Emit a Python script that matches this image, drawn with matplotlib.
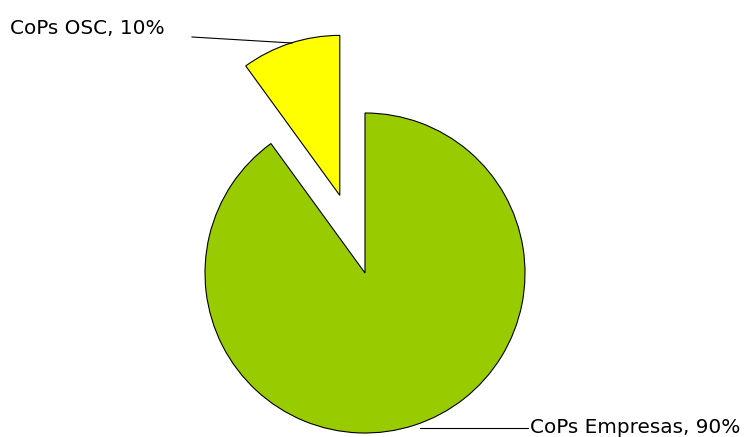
import matplotlib
matplotlib.use("Agg")
import matplotlib.pyplot as plt

categories = ["CoPs Empresas", "CoPs OSC"]
values = [90, 10]
colors = ["#99CC00", "#FFFF00"]
explode = [0, 0.51]  # fraction of radius

W, H = 747, 437
fig = plt.figure(figsize=(W / 100, H / 100), dpi=100)
ax = fig.add_axes([0, 0, 1, 1])
ax.set_xlim(0, W)
ax.set_ylim(0, H)
ax.set_aspect("equal")
ax.axis("off")

R = 160
cx, cy = 365, H - 273
wedges, _ = ax.pie(values, colors=colors, explode=[e * R for e in explode],
                   startangle=90, counterclock=False, radius=R, center=(cx, cy),
                   wedgeprops=dict(edgecolor="black", linewidth=0.8))
ax.set_xlim(0, W)
ax.set_ylim(0, H)

labels = [f"{c}, {v}%" for c, v in zip(categories, values)]
font = dict(family="DejaVu Sans", fontsize=14.4, color="black")

# OSC label + leader
ax.plot([192, 292], [H - 37, H - 43], color="black", lw=0.8)
ax.text(10, H - 34, labels[1], ha="left", va="baseline", **font)
# Empresas label + leader
ax.plot([420, 528], [H - 428, H - 428], color="black", lw=0.8)
ax.text(530, H - 433, labels[0], ha="left", va="baseline", **font)

fig.savefig("out.png", dpi=100)
